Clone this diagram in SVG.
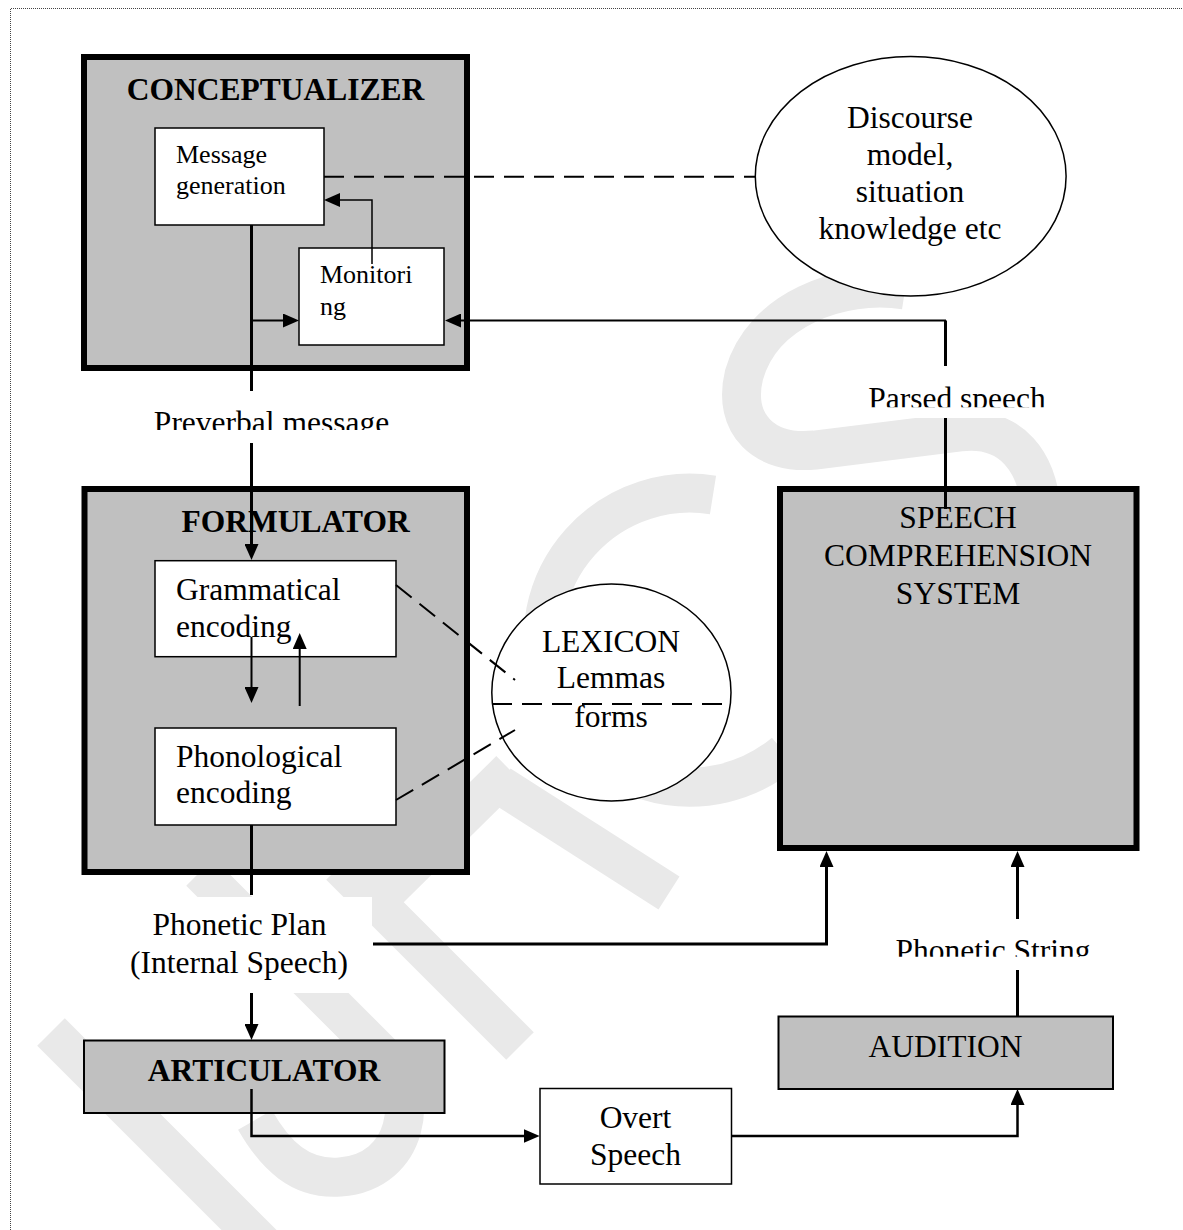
<svg xmlns="http://www.w3.org/2000/svg" width="1183" height="1230" viewBox="0 0 1183 1230">
<style>
text{font-family:"Liberation Serif","Times New Roman",serif;font-size:31.5px;fill:#000}
.b{font-weight:bold}
.s{font-size:26px}
.m{text-anchor:middle}
.big{fill:#c0c0c0;stroke:#000;stroke-width:6}
.sm{fill:#c0c0c0;stroke:#000;stroke-width:2}
.wb{fill:#fff;stroke:#000;stroke-width:1.5}
.ln{fill:none;stroke:#000}
.ds{fill:none;stroke:#000;stroke-width:2;stroke-dasharray:20 10}
.wm{fill:none;stroke:#e9e9e9;stroke-width:39}
</style>
<defs>
<marker id="ah" markerUnits="userSpaceOnUse" markerWidth="16" markerHeight="14" viewBox="0 0 16 14" refX="4" refY="7" orient="auto">
<path d="M0,0 L16,7 L0,14 z" fill="#000"/>
</marker>
<clipPath id="clipPre"><rect x="100" y="380" width="350" height="50"/></clipPath>
<clipPath id="clipParsed"><rect x="840" y="360" width="240" height="47.3"/></clipPath>
<clipPath id="clipPS"><rect x="870" y="915" width="250" height="41.7"/></clipPath>
</defs>
<rect x="0" y="0" width="1183" height="1230" fill="#fff"/>
<g id="frame" fill="none" stroke="#444" stroke-width="1" stroke-dasharray="1 1">
<path d="M10.5,1230 L10.5,8.5 L1183,8.5"/>
</g>
<g id="watermark">
<path class="wm" d="M51,1032 L300,1281"/>
<path class="wm" d="M340,866 L520,1046"/>
<path class="wm" d="M372,906 L510,770"/>
<path class="wm" d="M500,785 L669,893"/>
<path class="wm" d="M200,872 L385,1057 C420,1092 410,1172 340,1177 C300,1180 275,1155 255,1120"/>
<path class="wm" d="M713,495 A147,147 0 1 0 784.5,752.6"/>
<path class="wm" d="M905,290 C840,280 762,310 744,375 C732,425 765,455 815,450 L960,432 C1010,426 1040,460 1042,520 L1042,560"/>
<rect x="118" y="897" width="254" height="96" fill="#fff"/>
<rect x="867" y="367" width="180" height="51" fill="#fff"/>
</g>
<g id="conceptualizer">
<rect class="big" x="84" y="57" width="383" height="311"/>
<text class="b m" x="275.5" y="100">CONCEPTUALIZER</text>
</g>
<g id="message-generation">
<rect class="wb" x="155" y="128" width="169" height="97"/>
<text class="s" x="176" y="163">Message</text>
<text class="s" x="176" y="194">generation</text>
</g>
<g id="monitoring">
<rect class="wb" x="299" y="248" width="145" height="97"/>
<text class="s" x="320" y="283">Monitori</text>
<text class="s" x="320" y="315">ng</text>
</g>
<g id="discourse-model">
<ellipse class="wb" cx="910.7" cy="176.3" rx="155.4" ry="119.7"/>
<text class="m" x="910" y="128">Discourse</text>
<text class="m" x="910" y="165">model,</text>
<text class="m" x="910" y="202">situation</text>
<text class="m" x="910" y="239">knowledge etc</text>
</g>
<g id="formulator">
<rect class="big" x="84.5" y="489" width="382.5" height="383"/>
<text class="b m" x="295.6" y="531.7">FORMULATOR</text>
</g>
<g id="grammatical-encoding">
<rect class="wb" x="155" y="560.7" width="241" height="96"/>
<text x="176" y="600">Grammatical</text>
<text x="176" y="637">encoding</text>
</g>
<g id="phonological-encoding">
<rect class="wb" x="155" y="728" width="241" height="97"/>
<text x="176" y="767">Phonological</text>
<text x="176" y="803">encoding</text>
</g>
<g id="lexicon">
<ellipse class="wb" cx="611.4" cy="692.5" rx="119.6" ry="108.5"/>
<text class="m" x="611" y="652">LEXICON</text>
<text class="m" x="611" y="688">Lemmas</text>
<text class="m" x="611" y="727">forms</text>
</g>
<g id="speech-comprehension">
<rect class="big" x="780" y="489" width="356.5" height="359"/>
<text class="m" x="958" y="528">SPEECH</text>
<text class="m" x="958" y="566">COMPREHENSION</text>
<text class="m" x="958" y="604">SYSTEM</text>
</g>
<g id="articulator">
<rect class="sm" x="84" y="1040.5" width="360.5" height="72.5"/>
<text class="b m" x="264" y="1081">ARTICULATOR</text>
</g>
<g id="overt-speech">
<rect class="wb" x="540" y="1088.5" width="191.5" height="95.5" stroke-width="2"/>
<text class="m" x="635.5" y="1128">Overt</text>
<text class="m" x="635.5" y="1165">Speech</text>
</g>
<g id="audition">
<rect class="sm" x="778.5" y="1016.5" width="334.5" height="72.5"/>
<text class="m" x="945.5" y="1057">AUDITION</text>
</g>
<g id="connectors">
<path class="ln" stroke-width="3" d="M251.5,225 L251.5,391"/>
<path class="ln" stroke-width="2" d="M251.5,320.5 L287,320.5" marker-end="url(#ah)"/>
<path class="ln" stroke-width="1.5" d="M372,264 L372,200 L336,200" marker-end="url(#ah)"/>
<path class="ds" d="M324,176.7 L755.3,176.7"/>
<path class="ln" stroke-width="3" d="M945.5,366 L945.5,320.5"/>
<path class="ln" stroke-width="2" d="M946,320.5 L457,320.5" marker-end="url(#ah)"/>
<path class="ln" stroke-width="3" d="M945.5,418 L945.5,509"/>
<path class="ln" stroke-width="3" d="M251.5,443 L251.5,548" marker-end="url(#ah)"/>
<path class="ln" stroke-width="2" d="M251.5,637 L251.5,691" marker-end="url(#ah)"/>
<path class="ln" stroke-width="2" d="M299.7,706 L299.7,645" marker-end="url(#ah)"/>
<path class="ds" d="M396,585 L515,680"/>
<path class="ds" d="M396,800 L515,730"/>
<path class="ds" d="M492,704 L727,704"/>
<path class="ln" stroke-width="3" d="M251.5,825 L251.5,895"/>
<path class="ln" stroke-width="3" d="M373,944 L826.5,944 L826.5,863" marker-end="url(#ah)"/>
<path class="ln" stroke-width="3" d="M251.5,993 L251.5,1028" marker-end="url(#ah)"/>
<path class="ln" stroke-width="2.5" d="M251.5,1089 L251.5,1136 L527.6,1136" marker-end="url(#ah)"/>
<path class="ln" stroke-width="2.5" d="M731.5,1136 L1017.5,1136 L1017.5,1101" marker-end="url(#ah)"/>
<path class="ln" stroke-width="3" d="M1017.5,1016 L1017.5,970"/>
<path class="ln" stroke-width="3" d="M1017.5,919 L1017.5,863" marker-end="url(#ah)"/>
</g>
<g id="labels">
<text class="m" x="271.5" y="433" clip-path="url(#clipPre)">Preverbal message</text>
<text class="m" x="957" y="409" clip-path="url(#clipParsed)">Parsed speech</text>
<text class="m" x="239.5" y="935">Phonetic Plan</text>
<text class="m" x="239" y="972.5">(Internal Speech)</text>
<text class="m" x="993" y="961" clip-path="url(#clipPS)">Phonetic String</text>
</g>
</svg>
